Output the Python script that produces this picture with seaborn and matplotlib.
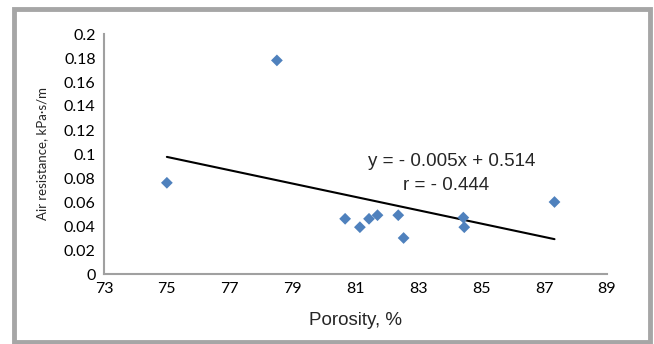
import numpy as np
import pandas as pd
import matplotlib
matplotlib.use("Agg")
import matplotlib.pyplot as plt
import seaborn as sns
from matplotlib.patches import Rectangle

porosity = [75.0, 78.5, 80.67, 81.14, 81.43, 81.7, 82.36, 82.53, 84.43, 84.46, 87.33]
air_res = [0.076, 0.178, 0.046, 0.039, 0.046, 0.049, 0.049, 0.030, 0.047, 0.039, 0.060]
xticks = [73, 75, 77, 79, 81, 83, 85, 87, 89]
yticks = [0, 0.02, 0.04, 0.06, 0.08, 0.1, 0.12, 0.14, 0.16, 0.18, 0.2]
ytick_labels = ["0", "0.02", "0.04", "0.06", "0.08", "0.1", "0.12", "0.14", "0.16", "0.18", "0.2"]
eq_text = "y = - 0.005x + 0.514"
r_text = "r = - 0.444"

df = pd.DataFrame({"porosity": porosity, "air": air_res})

sns.set_style("white")
plt.rcParams["font.family"] = ["Liberation Sans", "DejaVu Sans"]

fig = plt.figure(figsize=(6.54, 3.44), dpi=100)
ax = fig.add_axes([104 / 654, 1 - 274 / 344, (607 - 104) / 654, (274 - 34) / 344])

# trendline (linear fit over the data range)
sns.regplot(data=df, x="porosity", y="air", scatter=False, ci=None, truncate=True,
            line_kws={"color": "black", "lw": 1.5}, ax=ax)
sns.scatterplot(data=df, x="porosity", y="air", marker="D", s=36, color="#4F81BD",
                edgecolor="none", ax=ax, zorder=3)

ax.set_xlim(73, 89)
ax.set_ylim(0, 0.2)
ax.set_xticks(xticks)
ax.set_yticks(yticks)
ax.set_yticklabels(ytick_labels)
ax.tick_params(axis="both", length=0, labelsize=11.5, colors="black")
ax.tick_params(axis="y", pad=6)
ax.tick_params(axis="x", pad=6)
for lab in ax.get_xticklabels() + ax.get_yticklabels():
    lab.set_family(["Lato", "DejaVu Sans"])
for s in ["top", "right"]:
    ax.spines[s].set_visible(False)
for s in ["left", "bottom"]:
    ax.spines[s].set_color("#A0A0A0")
    ax.spines[s].set_linewidth(1.5)

ax.set_xlabel("Porosity, %", fontsize=13.5, labelpad=11)
ax.set_ylabel("Air resistance, kPa\u00b7s/m", fontsize=9.5, labelpad=11,
              family=["Lato", "DejaVu Sans"])

ax.text(84.07, 0.094, eq_text, fontsize=13.5, ha="center", va="center")
ax.text(83.88, 0.074, r_text, fontsize=13.5, ha="center", va="center")

# outer frame
fig.patches.append(Rectangle((14 / 654, 2 / 344), 636 / 654, 333 / 344, transform=fig.transFigure,
                             fill=False, edgecolor="#A6A6A6", linewidth=3.5))

fig.savefig("out.png", dpi=100)
